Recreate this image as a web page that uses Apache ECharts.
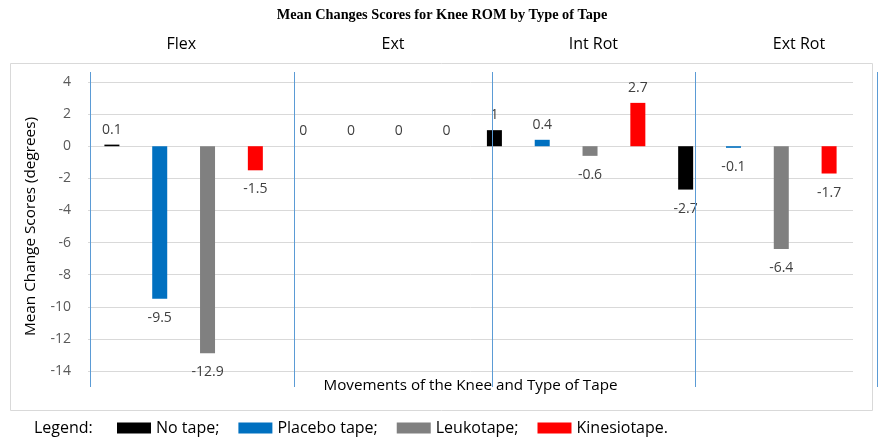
<!DOCTYPE html>
<html>
<head>
<meta charset="utf-8">
<script src="https://cdn.jsdelivr.net/npm/echarts@6/dist/echarts.min.js"></script>
<style>html,body{margin:0;padding:0;background:#fff;}#c{width:884px;height:445px;}</style>
</head>
<body>
<div id="c"></div>
<script>
// ---- data ----
const movements = ['Flex', 'Ext', 'Int Rot', 'Ext Rot'];
const tapeTypes = ['No tape', 'Placebo tape', 'Leukotape', 'Kinesiotape'];
const legendLabels = ['No tape;', 'Placebo tape;', 'Leukotape;', 'Kinesiotape.'];
const noTape = [0.1, 0, 1, -2.7];
const placeboTape = [-9.5, 0, 0.4, -0.1];
const leukotape = [-12.9, 0, -0.6, -6.4];
const kinesiotape = [-1.5, 0, 2.7, -1.7];
const yTicks = [-14, -12, -10, -8, -6, -4, -2, 0, 2, 4];

// ---- layout ----
const W = 884, H = 445;
const FONT = 'Open Sans';
const gridLeft = 88, gridRight = 31, gridTop = 82, gridBottom = 74;
const colors = ['#000000', '#0070C0', '#808080', '#FF0000'];
const seriesValues = [noTape, placeboTape, leukotape, kinesiotape];
const nSlots = movements.length * tapeTypes.length;
const slots = [];
for (let i = 0; i < nSlots; i++) slots.push(movements[Math.floor(i / 4)] + ' ' + (i % 4));

const series = seriesValues.map((vals, s) => {
  const data = new Array(nSlots).fill('-');
  vals.forEach((v, g) => {
    data[g * 4 + s] = {
      value: v,
      label: v >= 0 ? { position: 'top', distance: 8 } : { position: 'bottom', distance: 12 }
    };
  });
  return {
    name: tapeTypes[s],
    type: 'bar',
    data: data,
    barWidth: 15,
    barGap: '-100%',
    itemStyle: { color: colors[s] },
    label: {
      show: true,
      color: '#404040',
      fontSize: 14,
      fontFamily: FONT,
      formatter: p => String(p.value)
    },
    emphasis: { disabled: true }
  };
});

// structural decorations: separators (relative to plot area width in slot units)
const slotW = (W - gridLeft - gridRight) / nSlots;
const separatorSlots = [0.05, 4.31, 8.44, 12.69, 16.5];
const headerSlots = [1.95, 6.38, 10.57, 14.87];
const graphics = [
  { type: 'rect', shape: { x: 10.5, y: 63.5, width: 862, height: 347 },
    style: { fill: 'none', stroke: '#d9d9d9', lineWidth: 1 }, z: -1 }
];
separatorSlots.forEach(s => {
  const x = Math.round(gridLeft + s * slotW) + 0.5;
  graphics.push({ type: 'line', shape: { x1: x, y1: 72, x2: x, y2: 387 },
    style: { stroke: '#5B9BD5', lineWidth: 1 }, z: 10 });
});
movements.forEach((m, i) => {
  graphics.push({ type: 'text', x: gridLeft + headerSlots[i] * slotW, y: 44,
    style: { text: m, fill: '#000', font: '16px "' + FONT + '"', textAlign: 'center', textVerticalAlign: 'middle' } });
});
graphics.push({ type: 'text', x: 34, y: 428,
  style: { text: 'Legend:', fill: '#000', font: '16px "' + FONT + '"', textAlign: 'left', textVerticalAlign: 'middle' } });

const chart = echarts.init(document.getElementById('c'), null, { renderer: 'canvas' });
chart.setOption({
  animation: false,
  backgroundColor: '#fff',
  title: {
    text: 'Mean Changes Scores for Knee ROM by Type of Tape',
    left: 'center', top: 3,
    textStyle: { fontFamily: 'Liberation Serif', fontWeight: 'bold', fontSize: 14.3, color: '#000' }
  },
  legend: {
    data: tapeTypes,
    left: 112, top: 415,
    itemWidth: 34, itemHeight: 11, itemGap: 19,
    icon: 'rect',
    formatter: n => legendLabels[tapeTypes.indexOf(n)],
    textStyle: { fontFamily: FONT, fontSize: 16, color: '#000' },
    selectedMode: false
  },
  grid: { left: gridLeft, right: gridRight, top: gridTop, bottom: gridBottom, containLabel: false },
  xAxis: {
    type: 'category',
    data: slots,
    axisLine: { show: false },
    axisTick: { show: false },
    axisLabel: { show: false },
    name: 'Movements of the Knee and Type of Tape',
    nameLocation: 'middle',
    nameGap: 7,
    nameTextStyle: { fontFamily: FONT, fontSize: 15.2, color: '#000', verticalAlign: 'top' }
  },
  yAxis: {
    type: 'value',
    min: yTicks[0], max: yTicks[yTicks.length - 1], interval: 2,
    axisLine: { show: false },
    axisTick: { show: false },
    axisLabel: { color: '#595959', fontSize: 14, fontFamily: FONT, margin: 17 },
    splitLine: { lineStyle: { color: '#d9d9d9', width: 1 } },
    name: 'Mean Change Scores (degrees)',
    nameLocation: 'middle',
    nameGap: 50,
    nameTextStyle: { fontFamily: FONT, fontSize: 15.3, color: '#000' }
  },
  graphic: graphics,
  series: series
});
</script>
</body>
</html>
